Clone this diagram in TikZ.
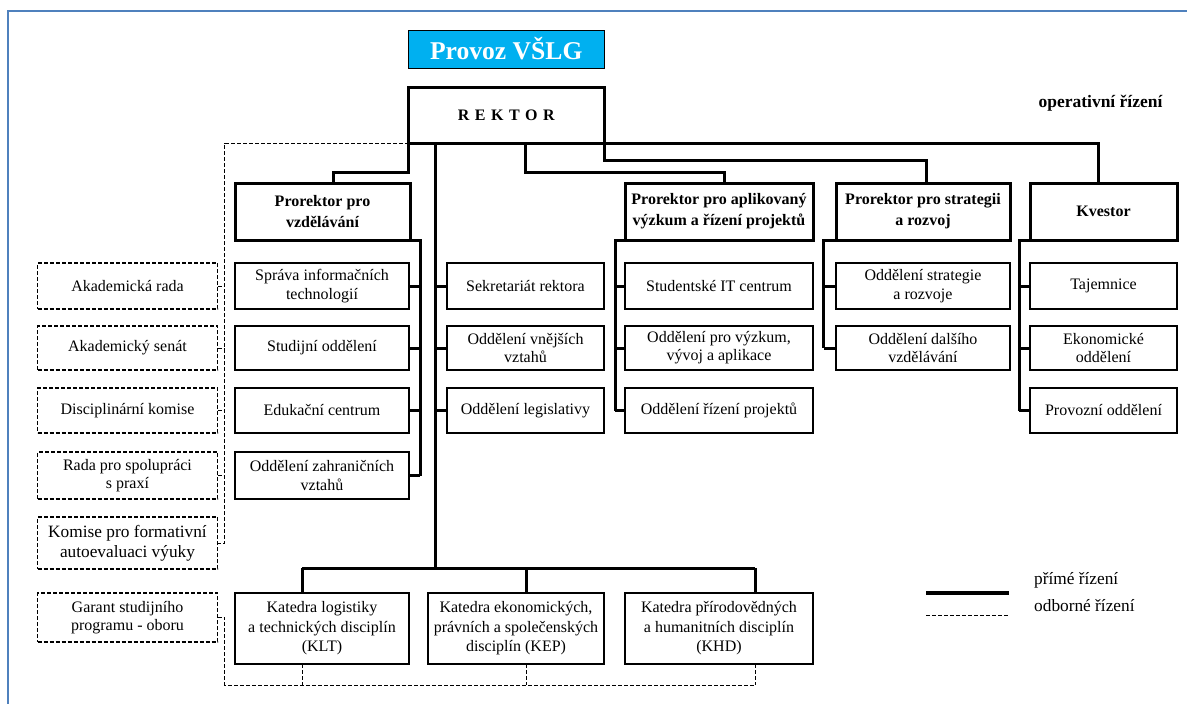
\documentclass[tikz,border=0pt]{standalone}
\usepackage{fontspec}
\setmainfont{Liberation Serif}
\definecolor{framecol}{RGB}{79,129,189}
\definecolor{provoz}{RGB}{0,176,240}
\tikzset{
  ubox/.style={draw, line width=1.3pt, align=center, inner sep=0pt, outer sep=0pt,
    font=\fontsize{16}{18.3}\selectfont},
  hbox/.style={draw, line width=3pt, align=center, inner sep=0pt, outer sep=0pt,
    font=\fontsize{16}{21}\selectfont\bfseries},
  dbox/.style={draw, line width=1.1pt, dash pattern=on 4pt off 2pt, align=center, inner sep=0pt, outer sep=0pt,
    font=\fontsize{16}{18.3}\selectfont},
  conn/.style={line width=3pt},
  dconn/.style={line width=1pt, dash pattern=on 4pt off 2pt},
  sz/.style 2 args={minimum width=#1pt, minimum height=#2pt},
  legtext/.style={anchor=west, inner sep=0pt, font=\fontsize{17.3}{20}\selectfont}
}
\begin{document}
\begin{tikzpicture}[x=1pt,y=-1pt]
\useasboundingbox (0,0) rectangle (1187,704);
% frame
\draw[framecol, line width=2pt] (8,704) -- (8,11) -- (1187,11);

% title and top
\node[draw, line width=1pt, fill=provoz, text=white, sz={195.5}{38}, inner sep=0pt,
  font=\fontsize{25.6}{28}\selectfont\bfseries] (provoz) at (506.25,49) {Provoz VŠLG};
\node[hbox, sz={195.5}{56}] (rektor) at (506.25,115)
  {R\hspace{5.5pt}E\hspace{5.5pt}K\hspace{5.5pt}T\hspace{5.5pt}O\hspace{5.5pt}R};
\node[inner sep=0pt, font=\fontsize{17.5}{20}\selectfont\bfseries] (oper) at (1100.5,103) {operativní řízení};

% header boxes
\node[hbox, sz={175}{57}] (prv) at (322.5,211.5) {Prorektor pro\\vzdělávání};
\node[hbox, sz={188}{57}] (apl) at (719,211.5) {Prorektor pro aplikovaný\\výzkum a řízení projektů};
\node[hbox, sz={174}{57}] (str) at (923,211.5) {Prorektor pro strategii\\a rozvoj};
\node[hbox, sz={147}{57}] (kv) at (1103.5,211.5) {Kvestor};

% column 1
\node[ubox, sz={174}{46}] (c1a) at (322,286) {Správa informačních\\technologií};
\node[ubox, sz={174}{44}] (c1b) at (322,348) {Studijní oddělení};
\node[ubox, sz={174}{45}] (c1c) at (322,410.5) {Edukační centrum};
\node[ubox, sz={174}{47}] (c1d) at (322,475.5) {Oddělení zahraničních\\vztahů};
% column 2
\node[ubox, sz={157}{46}] (c2a) at (525.5,286) {Sekretariát rektora};
\node[ubox, sz={157}{44}] (c2b) at (525.5,348) {Oddělení vnějších\\vztahů};
\node[ubox, sz={157}{45}] (c2c) at (525.5,410.5) {Oddělení legislativy};
% column 3
\node[ubox, sz={188}{46}] (c3a) at (719,286) {Studentské IT centrum};
\node[ubox, sz={188}{44}] (c3b) at (719,348) {Oddělení pro výzkum,\\vývoj a aplikace};
\node[ubox, sz={188}{45}] (c3c) at (719,410.5) {Oddělení řízení projektů};
% column 4
\node[ubox, sz={174}{46}] (c4a) at (923,286) {Oddělení strategie\\a rozvoje};
\node[ubox, sz={174}{44}] (c4b) at (923,348) {Oddělení dalšího\\vzdělávání};
% column 5
\node[ubox, sz={147}{46}] (c5a) at (1103.5,286) {Tajemnice};
\node[ubox, sz={147}{44}] (c5b) at (1103.5,348) {Ekonomické\\oddělení};
\node[ubox, sz={147}{45}] (c5c) at (1103.5,410.5) {Provozní oddělení};

% left dashed boxes
\node[dbox, sz={180}{46}] (l1) at (127.5,286) {Akademická rada};
\node[dbox, sz={180}{44}] (l2) at (127.5,348) {Akademický senát};
\node[dbox, sz={180}{45}] (l3) at (127.5,410.5) {Disciplinární komise};
\node[dbox, sz={180}{47}] (l4) at (127.5,475.5) {Rada pro spolupráci\\s praxí};
\node[dbox, sz={180}{52}, font=\fontsize{17.3}{20}\selectfont] (l5) at (127.5,543) {Komise pro formativní\\autoevaluaci výuky};
\node[dbox, sz={180}{49}] (l6) at (127.5,617.5) {Garant studijního\\programu - oboru};

% katedry
\node[ubox, sz={174}{71}, font=\fontsize{16}{19.5}\selectfont] (klt) at (322,628.5) {Katedra logistiky\\a technických disciplín\\(KLT)};
\node[ubox, sz={176}{71}, font=\fontsize{16}{19.5}\selectfont] (kep) at (516,628.5) {Katedra ekonomických,\\právních a společenských\\disciplín (KEP)};
\node[ubox, sz={188}{71}, font=\fontsize{16}{19.5}\selectfont] (khd) at (719,628.5) {Katedra přírodovědných\\a humanitních disciplín\\(KHD)};

% coordinates
\coordinate (v2top) at (435,143);
\coordinate (v2bot) at (435,568);
\coordinate (dtl) at (224.6,143);
\coordinate (dbl) at (224.6,685);
\coordinate (dbr) at (755,685);

% direct management (thick)
\draw[conn] (rektor.south west) -- ++(0,29) -| ([xshift=10.5pt]prv.north);
\draw[conn] (rektor.south -| 525,0) -- (525,172) -| ([xshift=5pt]apl.north);
\draw[conn] (rektor.south east) -- ++(0,17) -| ([xshift=3pt]str.north);
\draw[conn] (rektor.south east) -- (1098,143) -- ([xshift=-5.5pt]kv.north);
\draw[conn] (v2top) -- (v2bot);
\draw[conn] (302,568) -- (755,568);
\draw[conn] (302,568) -- (klt.north -| 302,0);
\draw[conn] (526,568) -- (kep.north -| 526,0);
\draw[conn] (755,568) -- (khd.north -| 755,0);
% column 1
\draw[conn] (prv.south east) -- (420,240) -- (c1d.east -| 420,0);
\foreach \n in {c1a,c1b,c1c,c1d} \draw[conn] (\n.east) -- (\n.east -| 420,0);
% column 2
\foreach \n in {c2a,c2b,c2c} \draw[conn] (\n.west) -- (\n.west -| v2top);
% column 3
\draw[conn] (apl.south west) -- (615,240) -- (c3c.west -| 615,0);
\foreach \n in {c3a,c3b,c3c} \draw[conn] (\n.west) -- (\n.west -| 615,0);
% column 4
\draw[conn] (str.south west) -- (823.5,240) -- (c4b.west -| 823.5,0);
\foreach \n in {c4a,c4b} \draw[conn] (\n.west) -- (\n.west -| 823.5,0);
% column 5
\draw[conn] (kv.south west) -- (1019,240) -- (c5c.west -| 1019,0);
\foreach \n in {c5a,c5b,c5c} \draw[conn] (\n.west) -- (\n.west -| 1019,0);

% professional management (dashed)
\draw[dconn] (rektor.south west) -- (dtl) -- (l5.east -| dtl) -- (l5.east);
\foreach \n in {l1,l2,l3,l4} \draw[dconn] (\n.east) -- (\n.east -| dtl);
\draw[dconn] (l6.east) -- (l6.east -| dtl) -- (dbl) -- (dbr);
\draw[dconn] (klt.south -| 302,0) -- (302,685);
\draw[dconn] (kep.south -| 526,0) -- (526,685);
\draw[dconn] (khd.south -| 755,0) -- (dbr);

% legend
\coordinate (lg1a) at (926,593);
\coordinate (lg1b) at (1009,593);
\coordinate (lg2a) at (926,615);
\coordinate (lg2b) at (1009,615);
\draw[line width=3.5pt] (lg1a) -- (lg1b);
\draw[dconn] (lg2a) -- (lg2b);
\node[legtext] (leg1) at (1034,580) {přímé řízení};
\node[legtext] (leg2) at (1034,606) {odborné řízení};
\end{tikzpicture}
\end{document}
